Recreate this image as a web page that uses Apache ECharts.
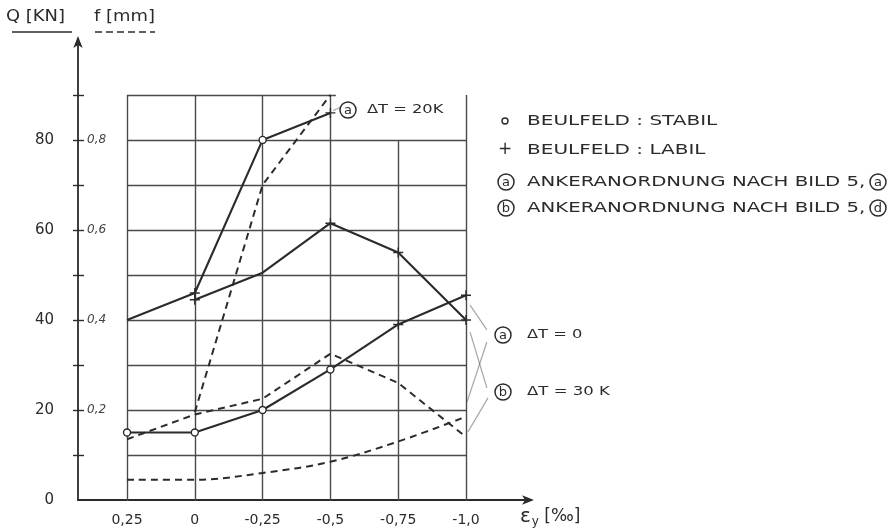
<!DOCTYPE html>
<html>
<head>
<meta charset="utf-8">
<script src="https://cdn.jsdelivr.net/npm/echarts@6/dist/echarts.min.js"></script>
<style>
  html, body { margin: 0; padding: 0; background: #fff; }
  #chart { width: 888px; height: 531px; }
</style>
</head>
<body>
<div id="chart"></div>
<script>
// Strain positions on the horizontal axis (‰) and their printed labels
const strainTicks  = [0.25, 0, -0.25, -0.5, -0.75, -1.0];
const strainLabels = ['0,25', '0', '-0,25', '-0,5', '-0,75', '-1,0'];

// Load Q [kN] (solid curves), one value per strain position (null = not measured)
const loadA_dT0  = [15, 15, 20, 29, 39, 45.5];
const loadB_dT30 = [null, 44.5, 50.5, 61.5, 55, 40];
const loadA_dT20 = [40, 46, 80, 86, null, null];

// Buckling-field state at each measured point: 'o' stable, '+' unstable, '' unmarked
const stateA_dT0  = ['o', 'o', 'o', 'o', '+', '+'];
const stateB_dT30 = [null, '+', '', '+', '+', '+'];
const stateA_dT20 = ['', '+', 'o', '+', null, null];

// Deflection f [mm] (dashed curves)
const deflA_dT0  = [0.045, 0.045, 0.06, 0.085, 0.13, 0.185];
const deflB_dT30 = [0.135, 0.19, 0.225, 0.325, 0.26, 0.14];
const deflA_dT20 = [null, 0.195, 0.70, 0.90, null, null];

// Axis tick values
const loadTickValues  = [10, 20, 30, 40, 50, 60, 70, 80, 90];
const loadLabelValues = [0, 20, 40, 60, 80];
const deflTickValues  = [0.1, 0.2, 0.3, 0.4, 0.5, 0.6, 0.7, 0.8, 0.9];
const deflLabelValues = [0.2, 0.4, 0.6, 0.8];

// Drawn grid: horizontal rows (Q values) with their right end, vertical columns with their top
const gridRows     = [10, 20, 30, 40, 50, 60, 70, 80, 90];
const gridRowEnds  = [-1, -1, -1, -1, -1, -1, -1, -1, -0.52];
const gridColTops  = [90, 90, 90, 90, 80, 90];
const gridBottom   = -1.5;

// Leader lines from curve ends to the ⓐ / ⓑ captions (strain, Q)
const leadersA = [[[-1.015, 43.3], [-1.077, 37.8]], [[-1.004, 21.8], [-1.077, 35.1]]];
const leadersB = [[[-1.015, 37.3], [-1.077, 24.9]], [[-1.007, 15.1], [-1.081, 22.7]]];
const leader20 = [[[-0.51, 86.5], [-0.535, 87.2]]];

const INK = '#2b2b2b';
const GRIDC = '#4a4a4a';
const FONT = 'DejaVu Sans';

const PLUS = 'path://M4.3,0H5.7V4.3H10V5.7H5.7V10H4.3V5.7H0V4.3H4.3Z';

function pointsOf(values, states) {
  const out = [];
  strainTicks.forEach((x, i) => {
    if (values[i] == null) return;
    const st = states ? states[i] : '';
    const item = { value: [x, values[i]] };
    if (st === 'o') {
      item.symbol = 'circle';
      item.symbolSize = 7;
      item.itemStyle = { color: '#fff', borderColor: INK, borderWidth: 1.4 };
    } else if (st === '+') {
      item.symbol = PLUS;
      item.symbolSize = 10;
      item.itemStyle = { color: INK, borderWidth: 0 };
    } else {
      item.symbol = 'none';
    }
    out.push(item);
  });
  return out;
}

function solid(name, values, states) {
  return {
    name, type: 'line', xAxisIndex: 0, yAxisIndex: 0,
    data: pointsOf(values, states),
    showAllSymbol: true,
    lineStyle: { color: INK, width: 2.1 },
    z: 5, silent: true, animation: false
  };
}

function dashed(name, values, smooth) {
  return {
    name, type: 'line', xAxisIndex: 0, yAxisIndex: 1,
    data: pointsOf(values, null),
    symbol: 'none', smooth: smooth || false,
    lineStyle: { color: INK, width: 2, type: [7, 5] },
    z: 4, silent: true, animation: false
  };
}

function linesSeries(segments, style, z) {
  return {
    type: 'lines', coordinateSystem: 'cartesian2d', xAxisIndex: 0, yAxisIndex: 0,
    data: segments.map(c => ({ coords: c })),
    lineStyle: style, silent: true, animation: false, z: z || 2
  };
}

const gridSegments = [];
gridRows.forEach((y, i) => gridSegments.push([[strainTicks[0], y], [gridRowEnds[i], y]]));
strainTicks.forEach((x, i) => gridSegments.push([[x, gridBottom], [x, gridColTops[i]]]));

function fmtComma(v) {
  return (Math.round(v * 100) / 100).toString().replace('.', ',');
}

function circled(cx, cy, letter, r) {
  r = r || 8;
  return {
    type: 'group', children: [
      { type: 'circle', shape: { cx, cy, r }, style: { fill: 'none', stroke: INK, lineWidth: 1.5 } },
      { type: 'text', x: cx, y: cy + 0.5, style: { text: letter, font: '13px ' + FONT, fill: INK, align: 'center', verticalAlign: 'middle' } }
    ]
  };
}

function caption(x, y, text, size, sx) {
  return {
    type: 'text', x, y, scaleX: sx || 1,
    style: { text, font: (size || 13) + 'px ' + FONT, fill: INK, verticalAlign: 'middle' }
  };
}

const chart = echarts.init(document.getElementById('chart'), null, { renderer: 'canvas' });

chart.setOption({
  backgroundColor: '#ffffff',
  animation: false,
  grid: { left: 78, right: 358, top: 40, bottom: 31, containLabel: false },
  xAxis: {
    type: 'value', min: -1.236, max: 0.4307, inverse: true,
    axisLine: { show: true, symbol: ['none', 'arrow'], symbolSize: [7, 12], symbolOffset: [0, 4],
                lineStyle: { color: INK, width: 1.8 } },
    axisTick: { show: false },
    splitLine: { show: false },
    axisLabel: {
      customValues: strainTicks, margin: 13,
      color: INK, fontFamily: FONT, fontSize: 14,
      formatter: v => {
        const i = strainTicks.findIndex(t => Math.abs(t - v) < 1e-6);
        return i >= 0 ? strainLabels[i] : '';
      }
    }
  },
  yAxis: [
    {
      type: 'value', min: 0, max: 102.2, position: 'left',
      axisLine: { show: true, onZero: false, symbol: ['none', 'arrow'], symbolSize: [7, 12], symbolOffset: [0, 4],
                  lineStyle: { color: INK, width: 1.8 } },
      axisTick: { show: true, customValues: loadTickValues, length: 5, lineStyle: { color: INK, width: 1.4 } },
      splitLine: { show: false },
      axisLabel: { customValues: loadLabelValues, margin: 24, color: INK, fontFamily: FONT, fontSize: 15 }
    },
    {
      type: 'value', min: 0, max: 1.022, position: 'left',
      axisLine: { show: false, onZero: false },
      axisTick: { show: true, inside: true, customValues: deflTickValues, length: 6, lineStyle: { color: INK, width: 1.4 } },
      splitLine: { show: false },
      axisLabel: {
        inside: true, customValues: deflLabelValues, margin: 9,
        color: '#444', fontFamily: FONT, fontSize: 12, fontStyle: 'italic',
        formatter: v => fmtComma(v)
      }
    }
  ],
  series: [
    linesSeries(gridSegments, { color: GRIDC, width: 1.4, opacity: 1 }, 1),
    solid('Q a ΔT=0', loadA_dT0, stateA_dT0),
    solid('Q b ΔT=30K', loadB_dT30, stateB_dT30),
    solid('Q a ΔT=20K', loadA_dT20, stateA_dT20),
    dashed('f a ΔT=0', deflA_dT0, 0.35),
    dashed('f b ΔT=30K', deflB_dT30, false),
    dashed('f a ΔT=20K', deflA_dT20, false),
    linesSeries(leadersA.concat(leadersB), { color: '#555', width: 1.3 }, 3),
    linesSeries(leader20, { color: '#555', width: 1.3 }, 3)
  ],
  graphic: [
    // axis titles
    caption(6, 17, 'Q [KN]', 16, 1.12),
    { type: 'line', shape: { x1: 12, y1: 32, x2: 72, y2: 32 }, style: { stroke: INK, lineWidth: 1.6 } },
    caption(94, 17, 'f [mm]', 16, 1.12),
    { type: 'line', shape: { x1: 95, y1: 32, x2: 155, y2: 32 }, style: { stroke: INK, lineWidth: 1.6, lineDash: [7, 4] } },
    { type: 'text', x: 520, y: 517, style: {
        text: '{e|ε}{s|y} [‰]', fill: INK, font: '17px ' + FONT, verticalAlign: 'middle',
        rich: { e: { fontSize: 20, fontFamily: FONT, fill: INK }, s: { fontSize: 12, fontFamily: FONT, fill: INK, padding: [9, 0, 0, 1] } }
    } },
    // curve captions
    circled(348, 110, 'a'),
    caption(367, 110, 'ΔT = 20K', 13, 1.25),
    circled(503, 335, 'a'),
    caption(527, 335, 'ΔT = 0', 13, 1.25),
    circled(503, 392, 'b'),
    caption(527, 392, 'ΔT = 30 K', 13, 1.27),
    // key
    { type: 'circle', shape: { cx: 505, cy: 121, r: 3 }, style: { fill: 'none', stroke: INK, lineWidth: 1.4 } },
    caption(527, 121, 'BEULFELD : STABIL', 14, 1.43),
    caption(498, 150, '+', 17),
    caption(527, 150, 'BEULFELD : LABIL', 14, 1.43),
    circled(506, 182, 'a'),
    caption(527, 182, 'ANKERANORDNUNG NACH BILD 5,', 14, 1.41),
    circled(878, 182, 'a'),
    circled(506, 208, 'b'),
    caption(527, 208, 'ANKERANORDNUNG NACH BILD 5,', 14, 1.41),
    circled(878, 208, 'd')
  ]
});
</script>
</body>
</html>
